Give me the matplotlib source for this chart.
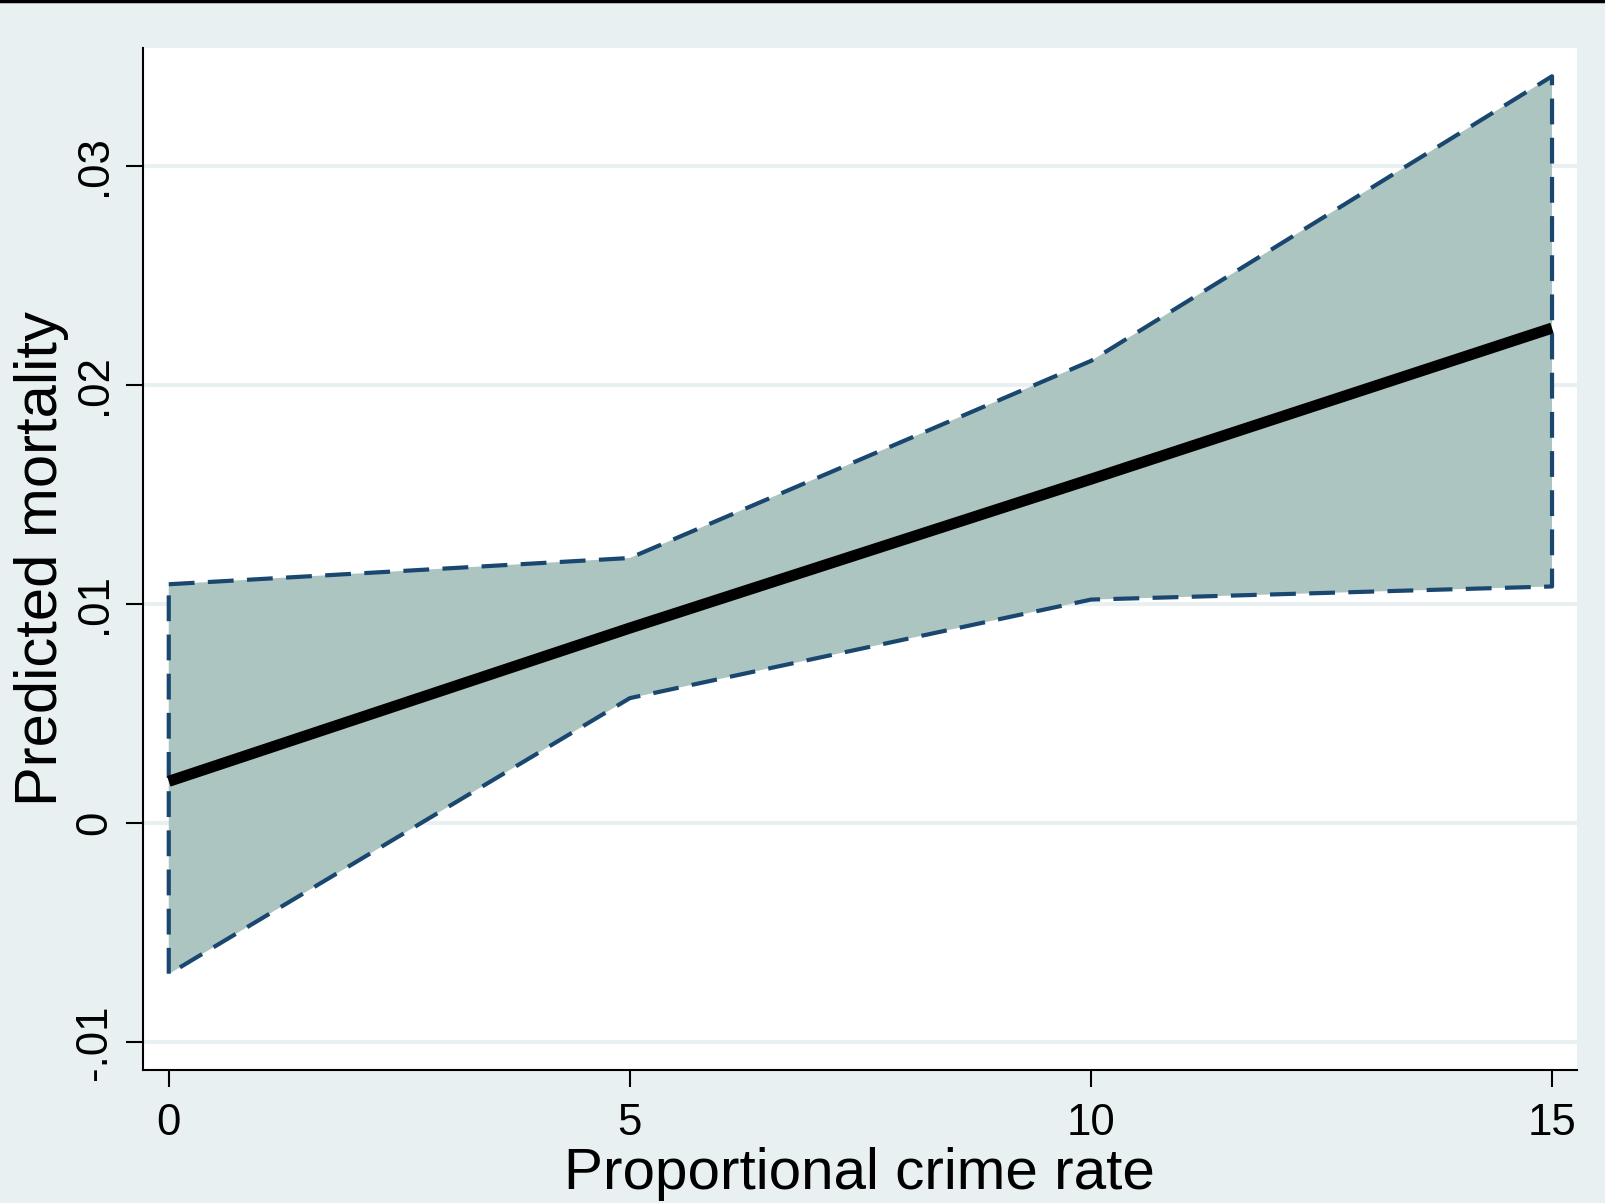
import numpy as np
import matplotlib
matplotlib.use("Agg")
import matplotlib.pyplot as plt
from matplotlib.lines import Line2D

plt.rcParams['font.family'] = ['Liberation Sans', 'DejaVu Sans']

# data
crime_rate = [0, 5, 10, 15]
predicted = [0.0019, 0.0089, 0.0157, 0.0226]
upper_ci = [0.0109, 0.0121, 0.0211, 0.0341]
lower_ci = [-0.0069, 0.0057, 0.0102, 0.0108]

x_ticks = [0, 5, 10, 15]
y_ticks = [-0.01, 0, 0.01, 0.02, 0.03]
y_tick_labels = ["-.01", "0", ".01", ".02", ".03"]

BG = '#e8f0f2'
NAVY = '#1a476f'
FILL = '#adc5c1'

fig = plt.figure(figsize=(16.06, 12.03), dpi=100, facecolor=BG)
ax = fig.add_axes([0.0890, 0.1106, 0.8929, 0.8495])
ax.set_facecolor('white')

# shaded CI area with dashed outline
poly_x = list(crime_rate) + list(crime_rate[::-1])
poly_y = list(upper_ci) + list(lower_ci[::-1])
ax.fill(poly_x, poly_y, facecolor=FILL, edgecolor='none', zorder=2)
ax.plot(poly_x + [poly_x[0]], poly_y + [poly_y[0]], color=NAVY, lw=3.0,
        dashes=(6.2, 3.2), zorder=3)

ax.plot(crime_rate, predicted, color='black', lw=8, solid_capstyle='butt', zorder=4)

ax.set_xlim(-0.28, 15.27)
ax.set_ylim(-0.01128, 0.03539)

ax.set_xticks(x_ticks)
ax.set_xticklabels([str(t) for t in x_ticks])
ax.set_yticks(y_ticks)
ax.set_yticklabels(y_tick_labels, rotation=90, va='center')
ax.tick_params(axis='both', direction='out', length=12, width=1.5, labelsize=31.5)
ax.tick_params(axis='x', pad=12)
ax.tick_params(axis='y', pad=8)

ax.grid(axis='y', color='#e8f0f2', lw=3, zorder=1)
ax.set_axisbelow(True)

for s in ['top', 'right']:
    ax.spines[s].set_visible(False)
for s in ['left', 'bottom']:
    ax.spines[s].set_linewidth(1.5)

ax.set_xlabel("Proportional crime rate", fontsize=42, labelpad=2)
ax.set_ylabel("Predicted mortality", fontsize=43, labelpad=4)

# thin black band at the very top
fig.add_artist(Line2D([0, 1], [0.9988, 0.9988], transform=fig.transFigure,
                      color='black', lw=2.5))

fig.savefig("out.png", dpi=100, facecolor=BG)
